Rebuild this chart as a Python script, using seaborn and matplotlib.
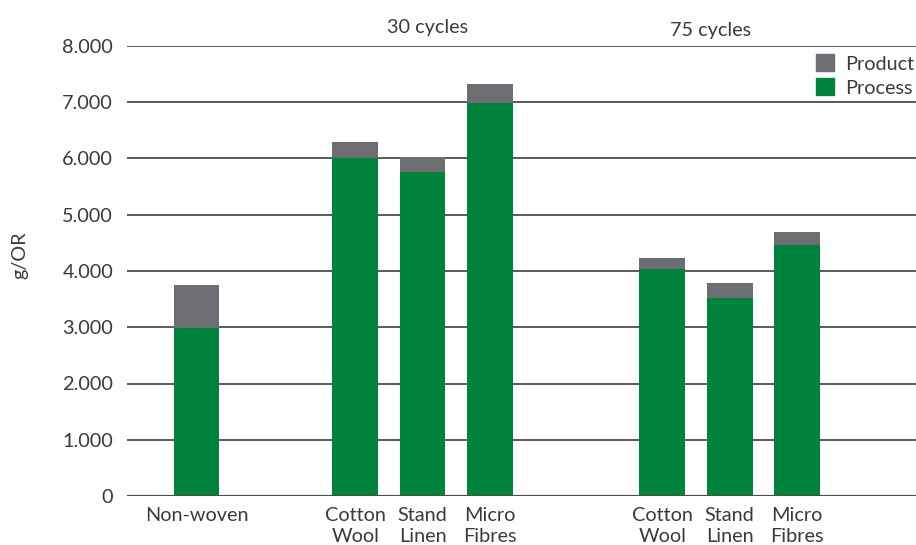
import pandas as pd
import seaborn as sns
import matplotlib.pyplot as plt
from matplotlib.patches import Patch

# values (g/OR)
labels = ["Non-woven", "Cotton\nWool", "Stand\nLinen", "Micro\nFibres",
          "Cotton\nWool", "Stand\nLinen", "Micro\nFibres"]
process = [2985, 6000, 5760, 6990, 4030, 3520, 4460]
total = [3750, 6290, 6030, 7320, 4230, 3790, 4690]
y_ticks = [0, 1000, 2000, 3000, 4000, 5000, 6000, 7000, 8000]
groups = ["30 cycles", "75 cycles"]

# layout
bar_pos = [-2.35, 0, 1, 2, 4.55, 5.55, 6.55]
group_pos = [1.08, 5.26]
group_y = [8330, 8280]
GREEN = "#00843d"
GREY = "#6d6e71"
TEXT = "#3a3a3a"
FS = 14.3

sns.set_style("white")
plt.rcParams['font.family'] = ['Lato', 'DejaVu Sans']

df = pd.DataFrame({'pos': bar_pos, 'total': total, 'process': process})

fig = plt.figure(figsize=(9.16, 5.45), dpi=100)
ax = fig.add_axes([127 / 916, 49 / 545, 789 / 916, 450 / 545])

sns.barplot(data=df, x='pos', y='total', native_scale=True, width=0.677,
            color=GREY, saturation=1, linewidth=0, errorbar=None, ax=ax)
sns.barplot(data=df, x='pos', y='process', native_scale=True, width=0.677,
            color=GREEN, saturation=1, linewidth=0, errorbar=None, ax=ax)

ax.set_xlim(-3.38, 8.31)
ax.set_ylim(0, 8000)
ax.set_axisbelow(True)
ax.yaxis.grid(True, color="#4d4d4d", linewidth=1.3)
ax.axhline(0, color="#4d4d4d", linewidth=1.5, zorder=3)
for s in ax.spines.values():
    s.set_visible(False)

ax.set_yticks(y_ticks)
ax.set_yticklabels(["0" if v == 0 else f"{v:,}".replace(",", ".") for v in y_ticks])
ax.set_xticks(bar_pos)
ax.set_xticklabels(labels, linespacing=1.3)
ax.tick_params(axis='both', length=0, labelsize=FS, colors=TEXT)
ax.tick_params(axis='y', pad=10)
ax.tick_params(axis='x', pad=8)

ax.set_xlabel("")
ax.set_ylabel("g/OR", fontsize=FS, color=TEXT)
ax.yaxis.set_label_coords(-0.125, 0.535)

for txt, gx, gy in zip(groups, group_pos, group_y):
    ax.text(gx, gy, txt, ha='center', va='center', fontsize=FS, color=TEXT)

handles = [Patch(color=GREY, label="Product"), Patch(color=GREEN, label="Process")]
ax.legend(handles=handles, loc='upper right', bbox_to_anchor=(1.02, 1.021),
          frameon=False, fontsize=FS, handlelength=0.9, handleheight=0.9,
          handletextpad=0.55, labelspacing=0.3, labelcolor=TEXT)

fig.savefig("out.png", dpi=100)
